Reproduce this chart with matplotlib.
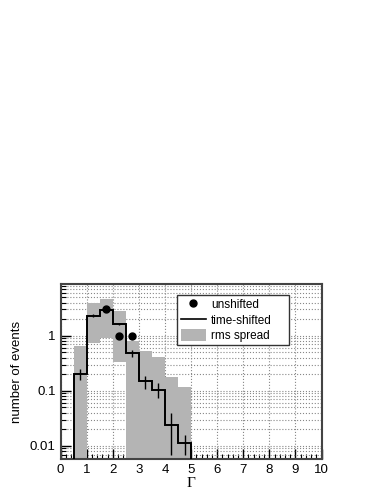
import matplotlib
matplotlib.use('Agg')
import matplotlib.pyplot as plt
import numpy as np
from matplotlib.ticker import LogLocator, MultipleLocator, FuncFormatter

# bin edges (width 0.5 in Gamma)
edges = [0.5, 1.0, 1.5, 2.0, 2.5, 3.0, 3.5, 4.0, 4.5, 5.0]
centers = [0.75, 1.25, 1.75, 2.25, 2.75, 3.25, 3.75, 4.25, 4.75]

# time-shifted histogram and its errors
shifted = [0.20, 2.3, 2.9, 1.63, 0.48, 0.15, 0.105, 0.024, 0.0113]
err_lo = [0.16, 2.15, 2.8, 1.55, 0.41, 0.11, 0.073, 0.007, 0.007]
err_hi = [0.245, 2.45, 3.0, 1.72, 0.55, 0.185, 0.137, 0.039, 0.016]

# rms spread band (0 = down to the axis)
rms_lo = [0, 0.73, 0.92, 0.33, 0, 0, 0, 0, 0]
rms_hi = [0.65, 3.9, 4.65, 2.85, 0.81, 0.53, 0.42, 0.175, 0.117]

# unshifted points
unsh_x = [1.75, 2.25, 2.75]
unsh_y = [3.0, 1.0, 1.0]

plt.rcParams['font.family'] = ['Liberation Sans', 'DejaVu Sans']

fig = plt.figure(figsize=(3.86, 5.0), dpi=100)
ax = fig.add_axes([0.157, 0.082, 0.676, 0.350])

lo = np.where(np.array(rms_lo) > 0, rms_lo, 1e-4)
hi = np.array(rms_hi)
ax.bar(centers, hi - lo, bottom=lo, width=0.5, color='#b4b4b4',
       linewidth=0, zorder=2, label='rms spread')

ax.stairs(shifted, edges, baseline=1e-4, color='black', linewidth=1.4,
          zorder=3)
ax.plot([], [], color='black', linewidth=1.2, label='time-shifted')

sh = np.array(shifted)
ax.errorbar(centers, sh, yerr=[sh - np.array(err_lo), np.array(err_hi) - sh],
            fmt='none', ecolor='black', elinewidth=1.0, capsize=0, zorder=3)

ax.plot(unsh_x, unsh_y, 'o', color='black', markersize=5, zorder=4,
        label='unshifted')

ax.set_yscale('log')
ax.set_xlim(0, 10)
ax.set_ylim(0.0058, 8.7)

ax.xaxis.set_major_locator(MultipleLocator(1))
ax.xaxis.set_minor_locator(MultipleLocator(0.2))
ax.yaxis.set_major_locator(LogLocator(base=10))
ax.yaxis.set_minor_locator(LogLocator(base=10, subs=np.arange(2, 10)))
ax.yaxis.set_major_formatter(FuncFormatter(lambda v, p: '%g' % v))

ax.tick_params(which='both', direction='in', labelsize=9.5, colors='black')
ax.tick_params(which='major', length=7, width=1)
ax.tick_params(which='minor', length=3.5, width=0.8)
ax.tick_params(axis='y', which='minor', labelleft=False)

ax.grid(True, axis='x', which='major', linestyle=':', color='#888888',
        linewidth=0.8, zorder=0)
ax.grid(True, axis='y', which='both', linestyle=':', color='#888888',
        linewidth=0.8, zorder=0)
ax.set_axisbelow(True)

for s in ax.spines.values():
    s.set_linewidth(1.5)
    s.set_color('#444444')

ax.set_xlabel('Γ', fontsize=11, family=['Liberation Serif', 'DejaVu Serif'],
              labelpad=1)
ax.set_ylabel('number of events', fontsize=9.5, labelpad=5)

handles, labels = ax.get_legend_handles_labels()
order = [labels.index(n) for n in ['unshifted', 'time-shifted', 'rms spread']]
leg = ax.legend([handles[i] for i in order], [labels[i] for i in order],
                loc='upper left', bbox_to_anchor=(0.447, 0.937, 0.43, 0.0),
                mode='expand', fontsize=8.5, frameon=True, fancybox=False,
                framealpha=1, edgecolor='#333333', borderpad=0.3,
                borderaxespad=0, labelspacing=0.2, handlelength=2.1,
                handleheight=1.15, handletextpad=0.45)
leg.get_frame().set_linewidth(1.0)
leg.set_zorder(5)

fig.savefig('out.png', dpi=100)
